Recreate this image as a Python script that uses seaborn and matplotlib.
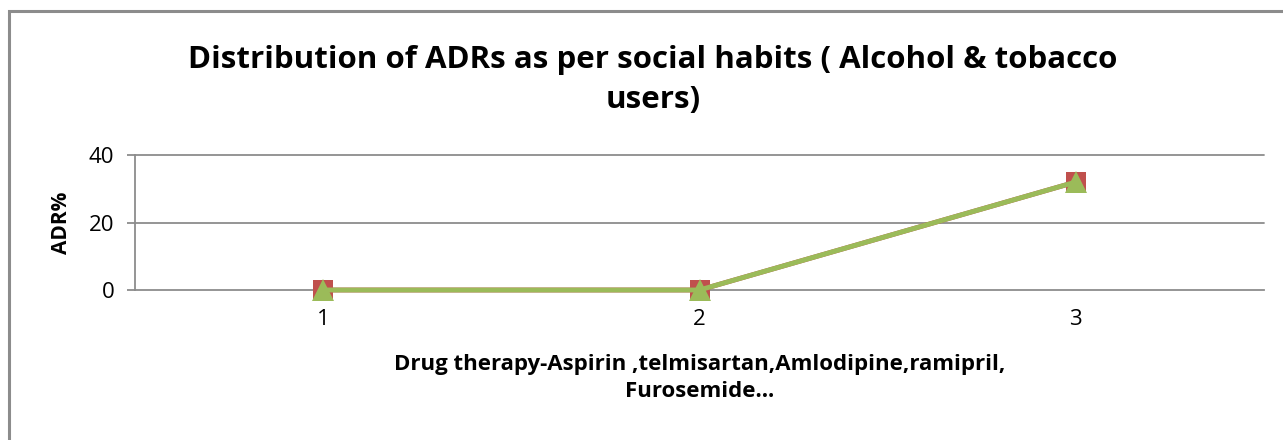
import matplotlib
matplotlib.use("Agg")
import matplotlib.pyplot as plt
import seaborn as sns
import pandas as pd
from matplotlib.patches import Rectangle

# data
categories = ["1", "2", "3"]
series_red = [0, 0, 32]
series_green = [0, 0, 32]
y_ticks = [0, 20, 40]

sns.set_style("white")
plt.rcParams['font.family'] = ['Open Sans', 'DejaVu Sans']
plt.rcParams['text.color'] = 'black'
plt.rcParams['xtick.color'] = 'black'
plt.rcParams['ytick.color'] = 'black'
plt.rcParams['axes.labelcolor'] = 'black'

df = pd.DataFrame({
    "cat": categories * 2,
    "val": series_red + series_green,
    "series": ["S1"] * 3 + ["S2"] * 3,
})

fig = plt.figure(figsize=(12.83, 4.4), dpi=100)
ax = fig.add_axes([135 / 1283, 1 - 290 / 440, (1264 - 135) / 1283, 135 / 440])

# outer chart border (gray)
fig.patches.append(Rectangle((9 / 1283, -0.1), 1.2, 1 - 11 / 440 + 0.1,
                             transform=fig.transFigure, fill=False,
                             edgecolor='#8c8c8c', linewidth=2.2, zorder=0))

for y in y_ticks[1:]:
    ax.axhline(y, color='#8c8c8c', linewidth=1.3, zorder=0)

sns.lineplot(data=df[df.series == "S1"], x="cat", y="val", ax=ax, color='#c0504d',
             marker='s', markersize=14, markeredgewidth=0, linewidth=3.5, zorder=3)
sns.lineplot(data=df[df.series == "S2"], x="cat", y="val", ax=ax, color='#9bbb59',
             marker='^', markersize=16, markeredgewidth=0, linewidth=3.5, zorder=4)
for ln in ax.lines:
    ln.set_clip_on(False)

ax.set_xlim(-0.5, 2.5)
ax.set_ylim(0, 40)
ax.set_yticks(y_ticks)
ax.set_yticklabels([str(v) for v in y_ticks], fontsize=16)
ax.tick_params(axis='y', length=6, color='#8c8c8c', width=1.3, pad=9, left=True)
ax.tick_params(axis='x', length=0, labelsize=16, pad=14)

for s in ['top', 'right']:
    ax.spines[s].set_visible(False)
for s in ['left', 'bottom']:
    ax.spines[s].set_color('#8c8c8c')
    ax.spines[s].set_linewidth(1.3)
ax.spines['bottom'].set_zorder(1)

ax.set_ylabel("ADR%", fontsize=15, fontweight='bold', labelpad=12)
ax.set_xlabel("Drug therapy-Aspirin ,telmisartan,Amlodipine,ramipril,\nFurosemide\u2026",
              fontsize=16, fontweight='bold', labelpad=17, linespacing=1.4)

fig.text(653 / 1283, 1 - 80 / 440,
         "Distribution of ADRs as per social habits ( Alcohol & tobacco\nusers)",
         ha='center', va='center', fontsize=22.5, fontweight='bold', linespacing=1.45)

fig.savefig("out.png", dpi=100)
